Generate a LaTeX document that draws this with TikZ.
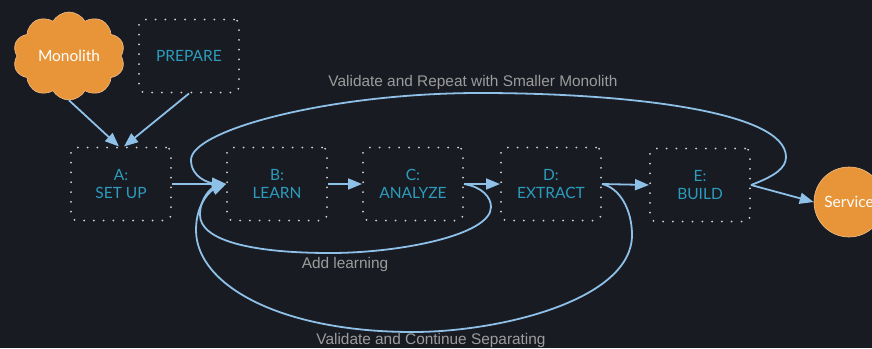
\documentclass[tikz,border=0pt]{standalone}
\usepackage{fontspec}
\setmainfont{Lato}
\newfontfamily\labfont{Liberation Sans}
\usetikzlibrary{shapes.symbols,arrows.meta}
\definecolor{bgc}{HTML}{191B23}
\definecolor{tealc}{HTML}{2C9CBC}
\definecolor{orangec}{HTML}{E8953A}
\definecolor{arrc}{HTML}{8EC0E8}
\definecolor{dotc}{HTML}{D4D4D4}
\definecolor{labc}{HTML}{9C9C9C}
\begin{document}
\begin{tikzpicture}[x=1pt,y=-1pt,
  stagebox/.style={draw=dotc, line width=2pt, dash pattern=on 0pt off 9.8pt, line cap=round,
    rounded corners=5pt, minimum width=100pt, minimum height=73pt, text=tealc,
    font=\fontsize{15.5}{18}\selectfont, align=center, inner sep=0pt},
  flow/.style={draw=arrc, line width=1.8pt, -{Triangle[length=14pt,width=11pt]}},
  lab/.style={text=labc, font=\labfont\fontsize{15.4}{18}\selectfont, inner sep=0pt},
  blob/.style={fill=orangec, draw=orangec!60!white, line width=0.6pt, text=white,
    font=\fontsize{15.5}{18}\selectfont}]
\useasboundingbox (0,0) rectangle (872,348);
\clip (0,0) rectangle (872,348);
\fill[bgc] (0,0) rectangle (872,348);

\node[blob, cloud, cloud puffs=10, cloud puff arc=120, aspect=1.25,
      minimum width=112pt, minimum height=88pt, inner sep=0pt] (mono) at (69,56) {Monolith};
\node[stagebox] (prep) at (189,56) {PREPARE};
\node[stagebox] (A) at (121,184) {A:\\SET UP};
\node[stagebox] (B) at (277,184) {B:\\LEARN};
\node[stagebox] (C) at (413,184) {C:\\ANALYZE};
\node[stagebox] (D) at (551,184) {D:\\EXTRACT};
\node[stagebox] (E) at (700,185) {E:\\BUILD};
\node[blob, circle, minimum size=70pt, inner sep=0pt] (svc) at (849,202) {Service};

\draw[flow] (mono.south) -- ([xshift=-2pt]A.north);
\draw[flow] (prep.south) -- ([xshift=3pt]A.north);
\draw[flow] (A.east) -- (B.west);
\draw[flow] (B.east) -- (C.west);
\draw[flow] (C.east) -- (D.west);
\draw[flow] (D.east) -- (E.west);
\draw[flow] (E.east) -- (svc.west);

% Validate and Repeat loop
\draw[flow] (E.east) .. controls (775,176) and (786,168) .. (786,157)
  .. controls (786,110) and (620,93) .. (480,93)
  .. controls (330,93) and (191,130) .. (191,160)
  .. controls (191,178) and (210,183) .. (B.west);
% Add learning loop
\draw[flow] (C.east) .. controls (482,187) and (491,197) .. (491,207)
  .. controls (491,235) and (400,253) .. (330,253)
  .. controls (250,253) and (200,240) .. (200,215)
  .. controls (200,197) and (212,188) .. (B.west);
% Validate and Continue Separating loop
\draw[flow] (D.east) .. controls (620,188) and (632,210) .. (632,235)
  .. controls (632,300) and (500,332) .. (413,332)
  .. controls (280,332) and (196,285) .. (196,230)
  .. controls (196,202) and (212,190) .. (B.west);

\node[lab] (l1) at (473,83) {Validate and Repeat with Smaller Monolith};
\node[lab] (l2) at (345,265) {Add learning};
\node[lab] (l3) at (431,341) {Validate and Continue Separating};
\end{tikzpicture}
\end{document}
